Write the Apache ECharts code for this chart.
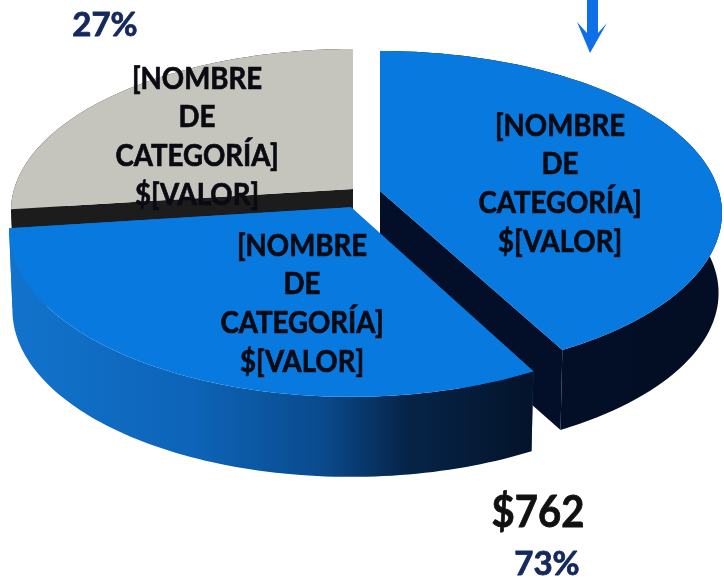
<!DOCTYPE html>
<html><head><meta charset="utf-8">
<style>html,body{margin:0;padding:0;background:#fff}#c{width:724px;height:584px}</style>
<script src="https://cdn.jsdelivr.net/npm/echarts@6/dist/echarts.min.js"></script>
</head><body><div id="c"></div>
<script>
// --- data ---
const categories = ['Azul derecha', 'Azul inferior', 'Gris'];
const values = [440, 322, 282];
const sliceLabels = ['[NOMBRE\nDE\nCATEGORÍA]\n$[VALOR]', '[NOMBRE\nDE\nCATEGORÍA]\n$[VALOR]', '[NOMBRE\nDE\nCATEGORÍA]\n$[VALOR]'];
const notes = ['27%', '$762', '73%'];

// --- layout / style ---
const RX = 342, RY = 162, DEPTH = 80, BOTTOM_SCALE = 0.99, PERSP = 0.136;
const centers = [[380, 213], [351, 230], [353, 211]];
const ryScale = [1, 1.03, 1];
const labelPos = [[560, 184], [302, 304], [197, 137]];
const topFill = ['#0879de', '#0879de', '#c5c5bd'];
const drawOrder = [2, 0, 1];
const wallFill = [
  new echarts.graphic.LinearGradient(0, 0, 1, 0, [
    {offset: 0, color: '#03102a'}, {offset: 1, color: '#030e24'}]),
  new echarts.graphic.LinearGradient(0, 0, 1, 0, [
    {offset: 0, color: '#1273cc'}, {offset: 0.35, color: '#0d64b8'},
    {offset: 0.6, color: '#0a4a8c'}, {offset: 0.76, color: '#062448'},
    {offset: 1, color: '#04132a'}]),
  '#1c1c1c'
];
const cutFill = ['#030f28', '#0879de', '#1c1c1c'];

const total = values.reduce((a, b) => a + b, 0);
const starts = [];
values.reduce((acc, v, i) => { starts[i] = acc; return acc + v; }, 0);

// Circle seen in perspective: the disc's centre lands above the ellipse's centre
function project(theta, r, i, scale, dy) {
  const c = centers[i];
  const u = r * Math.sin(theta), v = -r * Math.cos(theta);
  const d = 1 - PERSP * v;
  const up = u * Math.sqrt(1 - PERSP * PERSP) / d, vp = (v - PERSP) / d;
  return [c[0] + RX * scale * up, c[1] + dy + RY * ryScale[i] * vp];
}
function arc(a0, a1, i, scale, dy) {
  const n = 90, pts = [];
  for (let k = 0; k <= n; k++) pts.push(project(a0 + (a1 - a0) * k / n, 1, i, scale, dy));
  return pts;
}
function renderSlice(params) {
  const i = drawOrder[params.dataIndex];
  const a0 = starts[i] / total * 2 * Math.PI;
  const a1 = (starts[i] + values[i]) / total * 2 * Math.PI;
  const topArc = arc(a0, a1, i, 1, 0);
  const lowArc = arc(a0, a1, i, BOTTOM_SCALE, DEPTH);
  const apex = project(0, 0, i, 1, 0);
  const apexLow = project(0, 0, i, BOTTOM_SCALE, DEPTH);
  const poly = (points, fill) => ({type: 'polygon', shape: {points}, style: {fill}});
  const endTop = topArc[topArc.length - 1], endLow = lowArc[lowArc.length - 1];
  const startTop = topArc[0], startLow = lowArc[0];
  return {type: 'group', children: [
    poly([apex, startTop, startLow, apexLow], cutFill[i]),
    poly([apex, endTop, endLow, apexLow], cutFill[i]),
    poly(topArc.concat(lowArc.slice().reverse()), wallFill[i]),
    poly([apex].concat(topArc), topFill[i]),
    {type: 'text', x: labelPos[i][0], y: labelPos[i][1], scaleX: 0.92, style: {
      text: sliceLabels[i], align: 'center', verticalAlign: 'middle',
      font: 'bold 30px Lato', lineHeight: 38.6, fill: '#0a0a12', stroke: '#0a0a12', lineWidth: 0.7}}
  ]};
}

const chart = echarts.init(document.getElementById('c'), null, {renderer: 'canvas'});
chart.setOption({
  animation: false,
  backgroundColor: '#fff',
  series: [{
    type: 'custom', coordinateSystem: 'none', silent: true,
    data: drawOrder.map(i => ({name: categories[i], value: values[i]})),
    renderItem: renderSlice
  }],
  graphic: [
    {type: 'text', x: 105, y: 25, style: {text: notes[0], align: 'center', verticalAlign: 'middle', font: 'bold 33px Lato', fill: '#14285e', stroke: '#14285e', lineWidth: 0.8}},
    {type: 'text', x: 538, y: 513, scaleX: 0.93, style: {text: notes[1], align: 'center', verticalAlign: 'middle', font: 'bold 43px Lato', fill: '#111111', stroke: '#111111', lineWidth: 0.8}},
    {type: 'text', x: 547, y: 564, style: {text: notes[2], align: 'center', verticalAlign: 'middle', font: 'bold 33px Lato', fill: '#14285e', stroke: '#14285e', lineWidth: 0.8}},
    {type: 'polygon', shape: {points: [[587, 0], [598, 0], [598, 33], [607, 23], [590, 53], [577, 22], [587, 33]]}, style: {fill: '#0f6fe8'}}
  ]
});
</script></body></html>
